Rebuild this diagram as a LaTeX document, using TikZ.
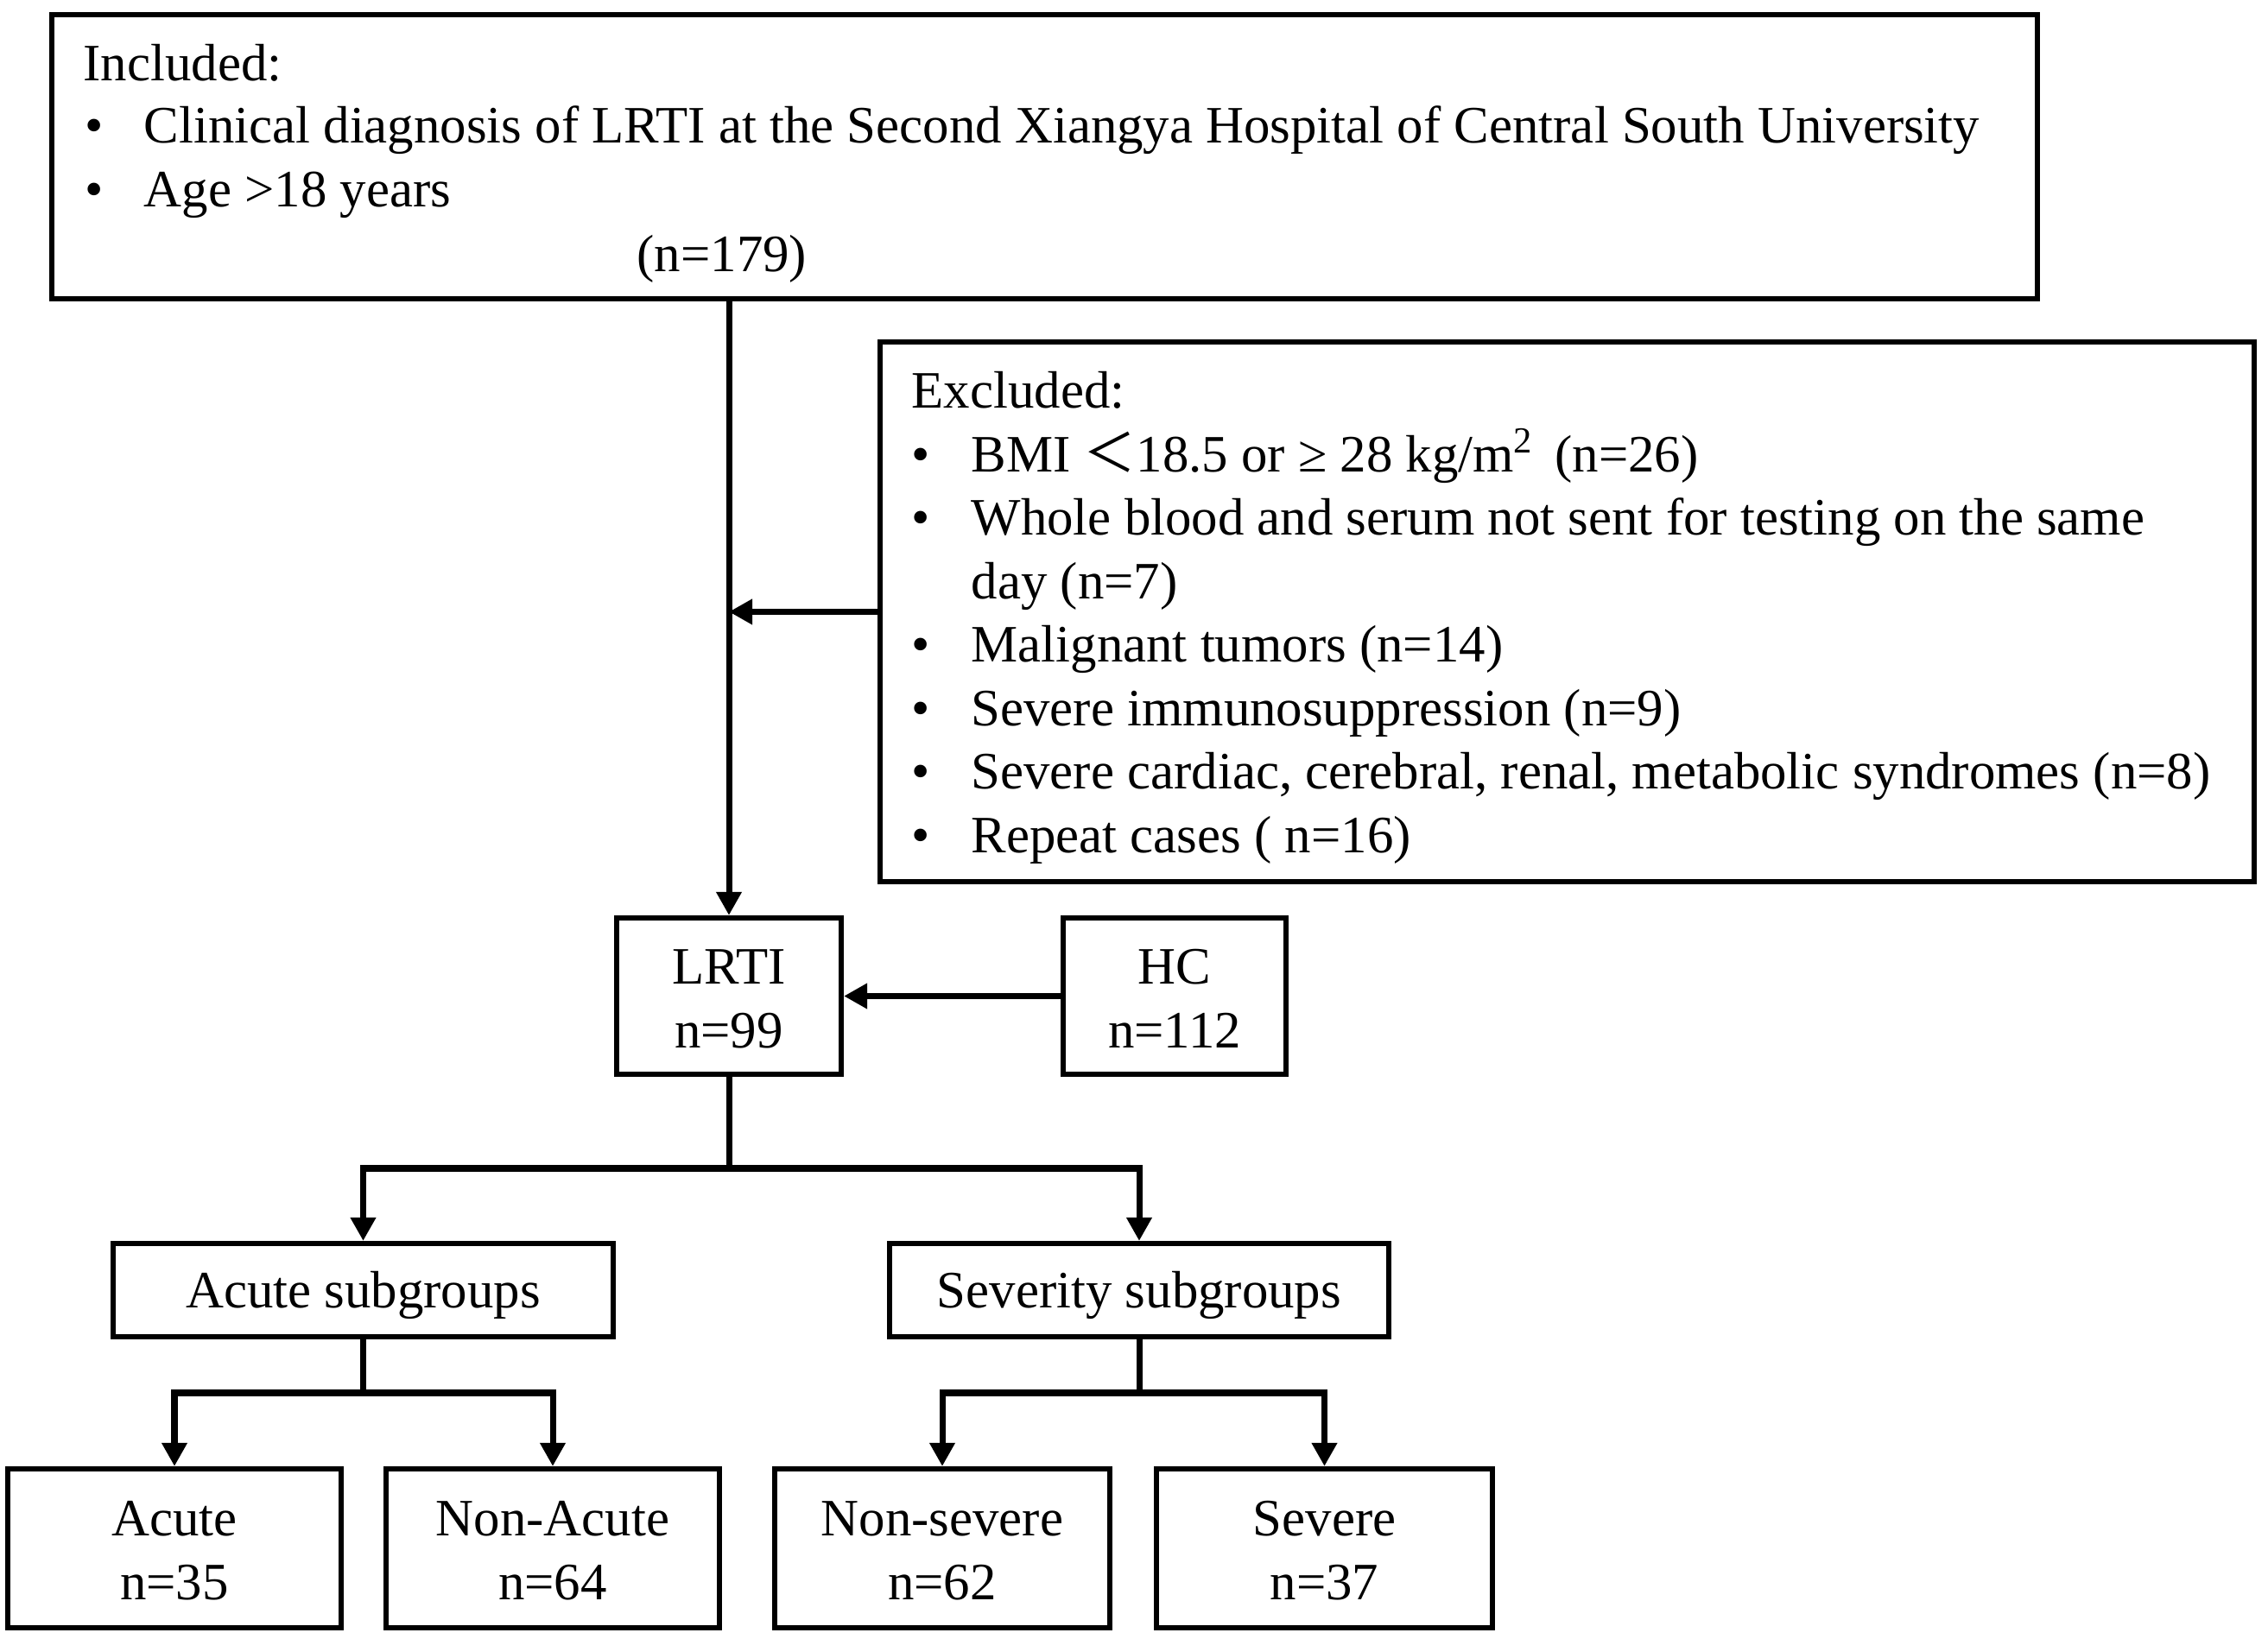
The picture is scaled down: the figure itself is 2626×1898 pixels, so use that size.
\documentclass[tikz,border=0pt]{standalone}
\usepackage{fontspec}
\setmainfont{Liberation Serif}
\newfontfamily\cjkfont{Noto Sans CJK SC}
\usetikzlibrary{arrows.meta}
\newcommand\boxstrut{\rule{0pt}{15.2pt}}
\newcommand\twostrut{\rule{0pt}{13.0pt}}
\begin{document}
\begin{tikzpicture}[x=0.01cm,y=-0.01cm,
  every node/.style={font=\fontsize{17.3pt}{21.05pt}\selectfont, inner sep=0pt},
  box/.style={draw, line width=0.06cm, align=center},
  txt/.style={anchor=base west},
  conn/.style={line width=0.07cm},
  arr/.style={conn, -{Triangle[length=0.27cm,width=0.28cm]}}]
\useasboundingbox (0,0) rectangle (2626,1898);
\fill[white] (0,0) rectangle (2626,1898);

% Included box
\node[box, minimum width=22.97cm, minimum height=3.29cm] (inc) at (1209.5,181.5) {};
\node[txt] (inct) at (96,94) {Included:};
\node[txt] (incb1) at (98,166) {•};
\node[txt] (inc1) at (166,166) {Clinical diagnosis of LRTI at the Second Xiangya Hospital of Central South University};
\node[txt] (incb2) at (98,240) {•};
\node[txt] (inc2) at (166,240) {Age >18 years};
\node[txt] (incn) at (737,315) {(n=179)};

% Excluded box
\node[box, minimum width=15.91cm, minimum height=6.25cm] (exc) at (1814.5,708.5) {};
\node[txt] (exct) at (1055,473) {Excluded:};
\node[txt] (excb1) at (1055,547) {•};
\node[txt] (exc1) at (1124,547) {BMI {\cjkfont ＜}18.5 or ≥ 28 kg/m\textsuperscript{2}\hspace{0.15em} (n=26)};
\node[txt] (excb2) at (1055,620) {•};
\node[txt] (exc2) at (1124,620) {Whole blood and serum not sent for testing on the same};
\node[txt] (exc2b) at (1124,694) {day (n=7)};
\node[txt] (excb3) at (1055,767) {•};
\node[txt] (exc3) at (1124,767) {Malignant tumors (n=14)};
\node[txt] (excb4) at (1055,841) {•};
\node[txt] (exc4) at (1124,841) {Severe immunosuppression (n=9)};
\node[txt] (excb5) at (1055,914) {•};
\node[txt] (exc5) at (1124,914) {Severe cardiac, cerebral, renal, metabolic syndromes (n=8)};
\node[txt] (excb6) at (1055,988) {•};
\node[txt] (exc6) at (1124,988) {Repeat cases ( n=16)};

% Middle boxes
\node[box, minimum width=2.60cm, minimum height=1.81cm] (lrti) at (844,1153.5) {\twostrut LRTI\\n=99};
\node[box, minimum width=2.58cm, minimum height=1.81cm] (hc) at (1360,1153.5) {\twostrut HC\\n=112};

% Subgroup boxes
\node[box, minimum width=5.79cm, minimum height=1.08cm] (asub) at (420.5,1494) {\boxstrut Acute subgroups};
\node[box, minimum width=5.78cm, minimum height=1.08cm] (ssub) at (1319,1494) {\boxstrut Severity subgroups};

% Bottom boxes
\node[box, minimum width=3.86cm, minimum height=1.84cm] (acute) at (202,1793) {\twostrut Acute\\n=35};
\node[box, minimum width=3.86cm, minimum height=1.84cm] (nacute) at (640,1793) {\twostrut Non-Acute\\n=64};
\node[box, minimum width=3.88cm, minimum height=1.84cm] (nsev) at (1091,1793) {\twostrut Non-severe\\n=62};
\node[box, minimum width=3.89cm, minimum height=1.84cm] (sev) at (1533.5,1793) {\twostrut Severe\\n=37};

% Connectors
\draw[arr] (lrti.north |- inc.south) -- (lrti.north);
\draw[arr] (exc.west) -- (exc.west -| lrti.north);
\draw[arr] (hc.west) -- (lrti.east);

\coordinate (b1) at (844,1353);
\draw[conn] (lrti.south) -- (b1);
\draw[arr] (b1) -| (asub.north);
\draw[arr] (b1) -| (ssub.north);

\coordinate (b2) at (420.5,1613);
\draw[conn] (asub.south) -- (b2);
\draw[arr] (b2) -| (acute.north);
\draw[arr] (b2) -| (nacute.north);

\coordinate (b3) at (1319,1613);
\draw[conn] (ssub.south) -- (b3);
\draw[arr] (b3) -| (nsev.north);
\draw[arr] (b3) -| (sev.north);
\end{tikzpicture}
\end{document}
